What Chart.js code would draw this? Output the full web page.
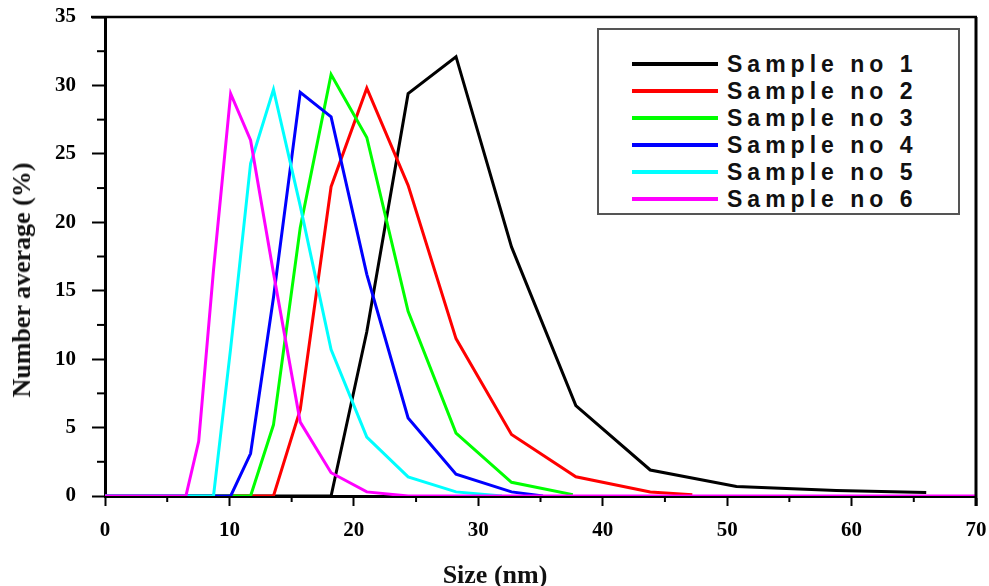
<!DOCTYPE html>
<html>
<head>
<meta charset="utf-8">
<script src="https://cdn.jsdelivr.net/npm/chart.js@4.4.0/dist/chart.umd.min.js"></script>
<style>
    body { margin: 0; background: #fff; }
    #wrap { position: relative; width: 989px; height: 586px; }
    canvas { position: absolute; left: 0; top: 0; }
    .axis-title { position: absolute; font: bold 26px 'Liberation Serif', 'Times New Roman', serif; color: #111; white-space: nowrap; }
    #yTitle { left: 22px; top: 280px; transform: translate(-50%, -50%) rotate(-90deg); }
    #xTitle { left: 495px; top: 575px; transform: translate(-50%, -50%); }
    #legend { position: absolute; left: 597px; top: 28px; width: 363px; height: 187px; box-sizing: border-box;
              border: 2px solid #555; background: #fff; }
    .row { position: absolute; left: 0; height: 26px; display: flex; align-items: center; }
    .swatch { position: absolute; left: 33px; width: 86px; height: 4px; }
    .label { position: absolute; left: 128px; font: bold 23px 'Liberation Sans', Arial, sans-serif; letter-spacing: 5px; color: #111; white-space: nowrap; line-height: 26px; }
</style>
</head>
<body>
<div id="wrap">
    <canvas id="chart" width="989" height="586"></canvas>
    <div class="axis-title" id="yTitle">Number average (%)</div>
    <div class="axis-title" id="xTitle">Size (nm)</div>
    <div id="legend"></div>
</div>
<script>
// Series names and colours
const seriesNames = ['Sample no 1', 'Sample no 2', 'Sample no 3', 'Sample no 4', 'Sample no 5', 'Sample no 6'];
const seriesColors = ['#000000', '#ff0000', '#00ff00', '#0000ff', '#00ffff', '#ff00ff'];

// Size (nm) and number average (%)
const sizes1 = [0, 18.17, 21.04, 24.36, 28.21, 32.67, 37.84, 43.82, 50.75, 58.77, 66.0];
const values1 = [0, 0, 12, 29.4, 32.1, 18.2, 6.6, 1.9, 0.7, 0.4, 0.25];

const sizes2 = [0, 13.54, 15.69, 18.17, 21.04, 24.36, 28.21, 32.67, 37.84, 43.82, 47.2];
const values2 = [0, 0, 6.3, 22.6, 29.8, 22.7, 11.5, 4.5, 1.4, 0.3, 0.1];

const sizes3 = [0, 11.7, 13.54, 15.69, 18.17, 21.04, 24.36, 28.21, 32.67, 37.6];
const values3 = [0, 0, 5.2, 19.6, 30.8, 26.2, 13.5, 4.6, 1.0, 0.1];

const sizes4 = [0, 10.1, 11.7, 13.54, 15.69, 18.17, 21.04, 24.36, 28.21, 32.67, 35.2];
const values4 = [0, 0, 3.1, 14.5, 29.5, 27.7, 16.2, 5.7, 1.6, 0.3, 0];

const sizes5 = [0, 8.72, 10.1, 11.7, 13.54, 15.69, 18.17, 21.04, 24.36, 28.21, 31.9];
const values5 = [0, 0, 10.8, 24.3, 29.7, 21.2, 10.7, 4.3, 1.4, 0.3, 0];

const sizes6 = [0, 6.5, 7.53, 8.72, 10.1, 11.7, 13.54, 15.69, 18.17, 21.04, 24.36, 70];
const values6 = [0, 0, 4.0, 16.5, 29.4, 26.0, 16.3, 5.4, 1.7, 0.3, 0, 0];

// Axis ticks
const xMajorTicks = [0, 10, 20, 30, 40, 50, 60, 70];
const xMinorTicks = [5, 15, 25, 35, 45, 55, 65];
const yMajorTicks = [0, 5, 10, 15, 20, 25, 30, 35];
const yMinorTicks = [2.5, 7.5, 12.5, 17.5, 22.5, 27.5, 32.5];

const allSizes = [sizes1, sizes2, sizes3, sizes4, sizes5, sizes6];
const allValues = [values1, values2, values3, values4, values5, values6];

const tickFont = {family: "'Liberation Serif', 'Times New Roman', serif", size: 21, weight: 'bold'};

// frame on top/right plus the short minor ticks
const framePlugin = {
    id: 'frame',
    afterDraw(chart) {
        const ctx = chart.ctx;
        const {left, right, top, bottom} = chart.chartArea;
        const xs = chart.scales.x, ys = chart.scales.y;
        ctx.save();
        ctx.strokeStyle = '#000';
        ctx.lineWidth = 2.5;
        ctx.beginPath();
        ctx.moveTo(left - 14, top);
        ctx.lineTo(right + 1, top);
        ctx.stroke();
        ctx.lineWidth = 3;
        ctx.beginPath();
        ctx.moveTo(right, top);
        ctx.lineTo(right, bottom + 10);
        ctx.stroke();
        ctx.lineWidth = 2;
        xMinorTicks.forEach(v => {
            const px = xs.getPixelForValue(v);
            ctx.beginPath();
            ctx.moveTo(px, bottom);
            ctx.lineTo(px, bottom + 6);
            ctx.stroke();
        });
        yMinorTicks.forEach(v => {
            const py = ys.getPixelForValue(v);
            ctx.beginPath();
            ctx.moveTo(left, py);
            ctx.lineTo(left - 8, py);
            ctx.stroke();
        });
        ctx.restore();
    }
};

const datasets = seriesNames.map((name, i) => ({
    label: name,
    data: allSizes[i].map((x, j) => ({x, y: allValues[i][j]})),
    borderColor: seriesColors[i],
    backgroundColor: seriesColors[i],
    borderWidth: 3,
    pointRadius: 0,
    tension: 0,
    fill: false,
    order: seriesNames.length - i   // later samples drawn on top
}));

new Chart(document.getElementById('chart'), {
    type: 'line',
    data: {datasets},
    options: {
        responsive: false,
        animation: false,
        devicePixelRatio: 1,
        layout: {padding: {top: 17, right: 13, left: 0, bottom: 0}},
        plugins: {legend: {display: false}, tooltip: {enabled: false}},
        scales: {
            x: {
                type: 'linear',
                min: 0, max: 70,
                afterBuildTicks: s => { s.ticks = xMajorTicks.map(v => ({value: v})); },
                afterFit: s => { s.height = 90; s.paddingLeft = 0; s.paddingRight = 0; },
                ticks: {font: tickFont, color: '#000', padding: 12, maxRotation: 0},
                grid: {drawOnChartArea: false, drawTicks: true, tickLength: 10, tickWidth: 2, tickColor: '#000'},
                border: {display: true, color: '#000', width: 3}
            },
            y: {
                min: 0, max: 35,
                afterBuildTicks: s => { s.ticks = yMajorTicks.map(v => ({value: v})); },
                afterFit: s => { s.width = 105; s.paddingTop = 0; s.paddingBottom = 0; },
                ticks: {font: tickFont, color: '#000', padding: 16},
                grid: {drawOnChartArea: false, drawTicks: true, tickLength: 13, tickWidth: 2, tickColor: '#000'},
                border: {display: true, color: '#000', width: 3}
            }
        }
    },
    plugins: [framePlugin]
});

// legend box built from the same names and colours
const legend = document.getElementById('legend');
seriesNames.forEach((name, i) => {
    const row = document.createElement('div');
    row.className = 'row';
    row.style.top = (21 + i * 27) + 'px';
    row.innerHTML = `<span class="swatch" style="background:${seriesColors[i]}"></span><span class="label">${name}</span>`;
    legend.appendChild(row);
});
</script>
</body>
</html>
